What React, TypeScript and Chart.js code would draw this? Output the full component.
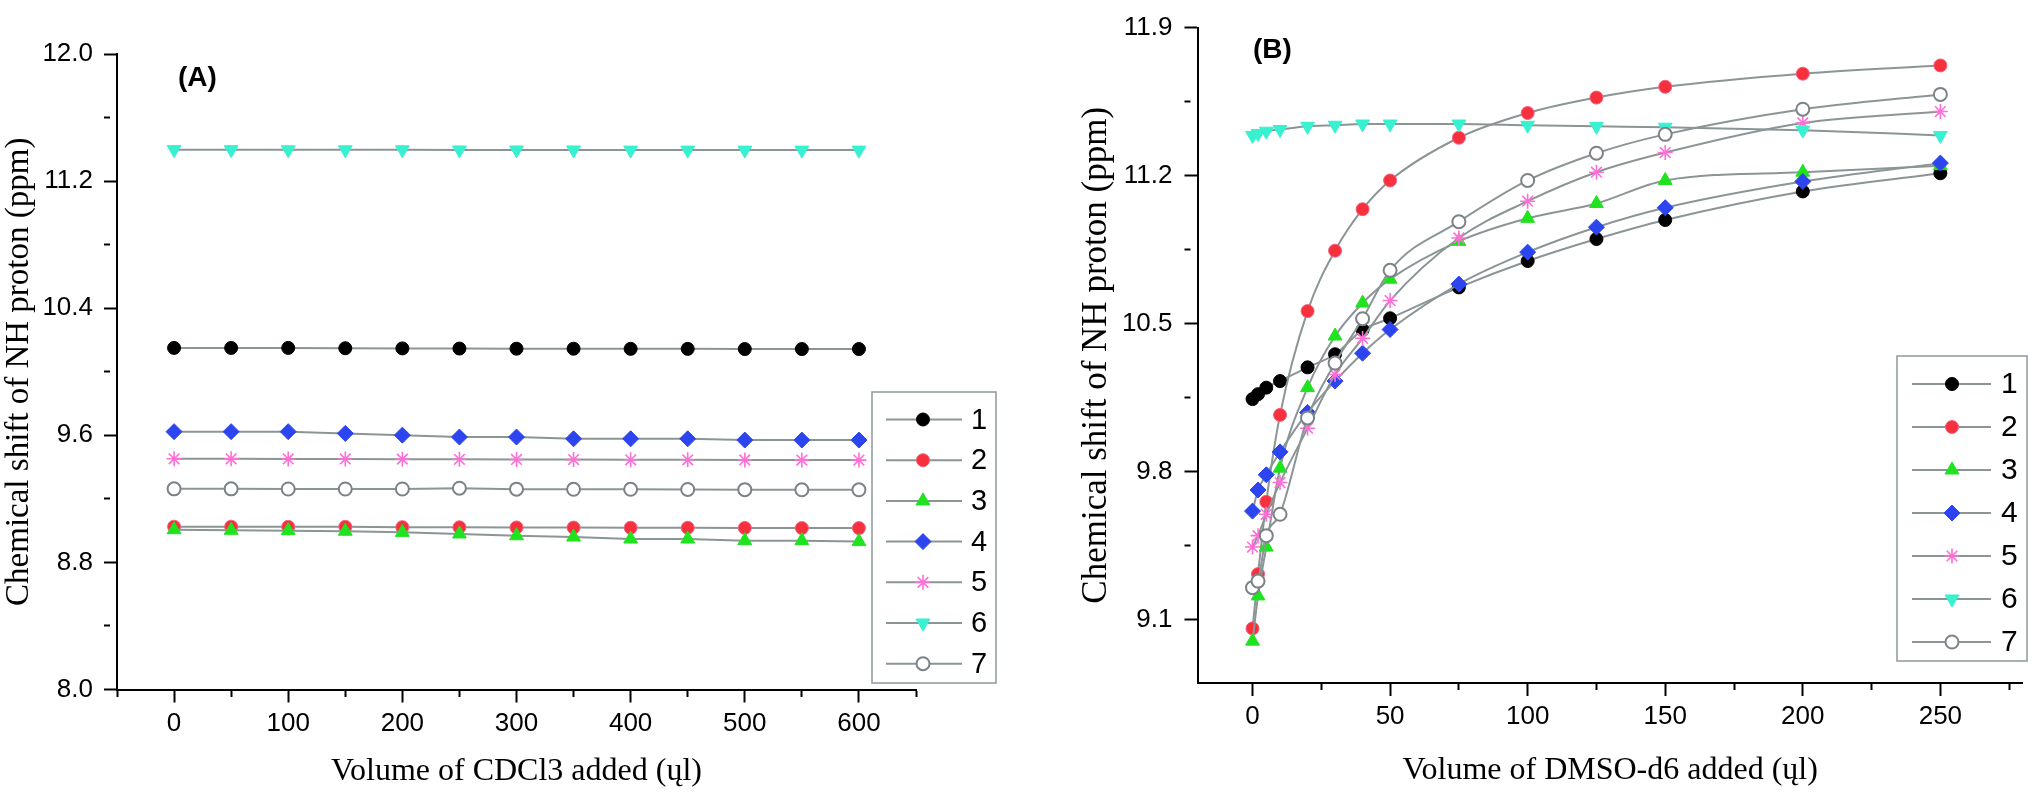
import { useEffect, useRef } from 'react';
import { Chart, registerables } from 'chart.js';
import { drawPoint } from 'chart.js/helpers';

Chart.register(...registerables);

// series labels, shared by both panels
const compounds = ['1', '2', '3', '4', '5', '6', '7'];

// (A) CDCl3 titration
const cdclVolumes = [0, 50, 100, 150, 200, 250, 300, 350, 400, 450, 500, 550, 600];
const cdclShift1 = [10.15, 10.15, 10.15, 10.148, 10.147, 10.146, 10.145, 10.145, 10.144, 10.144, 10.143, 10.143, 10.143];
const cdclShift2 = [9.025, 9.025, 9.024, 9.024, 9.022, 9.021, 9.02, 9.019, 9.018, 9.018, 9.017, 9.016, 9.016];
const cdclShift3 = [9.006, 9.002, 9.0, 8.996, 8.989, 8.979, 8.968, 8.96, 8.947, 8.947, 8.937, 8.937, 8.931];
const cdclShift4 = [9.623, 9.623, 9.623, 9.612, 9.601, 9.589, 9.589, 9.578, 9.578, 9.578, 9.57, 9.57, 9.57];
const cdclShift5 = [9.452, 9.452, 9.451, 9.451, 9.45, 9.449, 9.448, 9.447, 9.446, 9.446, 9.445, 9.444, 9.444];
const cdclShift6 = [11.398, 11.398, 11.397, 11.397, 11.397, 11.396, 11.396, 11.396, 11.395, 11.395, 11.395, 11.395, 11.395];
const cdclShift7 = [9.263, 9.263, 9.262, 9.262, 9.262, 9.267, 9.261, 9.26, 9.26, 9.259, 9.258, 9.257, 9.257];

const cdclXTicks = [-50, 0, 50, 100, 150, 200, 250, 300, 350, 400, 450, 500, 550, 600, 650];
const cdclXLabels = [0, 100, 200, 300, 400, 500, 600];
const cdclYTicks = [8.0, 8.4, 8.8, 9.2, 9.6, 10.0, 10.4, 10.8, 11.2, 11.6, 12.0];
const cdclYLabels = [8.0, 8.8, 9.6, 10.4, 11.2, 12.0];

// (B) DMSO-d6 titration
const dmsoVolumes = [0, 2, 5, 10, 20, 30, 40, 50, 75, 100, 125, 150, 200, 250];
const dmsoShift1 = [10.143, 10.166, 10.197, 10.228, 10.293, 10.355, 10.47, 10.525, 10.671, 10.796, 10.9, 10.99, 11.125, 11.211];
const dmsoShift2 = [9.058, 9.315, 9.657, 10.068, 10.559, 10.845, 11.041, 11.177, 11.379, 11.496, 11.569, 11.62, 11.682, 11.721];
const dmsoShift3 = [8.998, 9.212, 9.443, 9.816, 10.197, 10.441, 10.597, 10.71, 10.889, 10.998, 11.068, 11.177, 11.216, 11.247];
const dmsoShift4 = [9.613, 9.713, 9.785, 9.893, 10.08, 10.228, 10.36, 10.472, 10.687, 10.838, 10.956, 11.048, 11.172, 11.259];
const dmsoShift5 = [9.443, 9.497, 9.598, 9.748, 10.005, 10.259, 10.43, 10.609, 10.905, 11.079, 11.216, 11.309, 11.449, 11.503];
const dmsoShift6 = [11.39, 11.399, 11.41, 11.418, 11.433, 11.438, 11.444, 11.444, 11.444, 11.438, 11.433, 11.429, 11.415, 11.39];
const dmsoShift7 = [9.251, 9.282, 9.497, 9.598, 10.054, 10.313, 10.523, 10.752, 10.982, 11.177, 11.306, 11.395, 11.514, 11.584];

const dmsoXTicks = [0, 25, 50, 75, 100, 125, 150, 175, 200, 225, 250, 275];
const dmsoXLabels = [0, 50, 100, 150, 200, 250];
const dmsoYTicks = [9.1, 9.45, 9.8, 10.15, 10.5, 10.85, 11.2, 11.55, 11.9];
const dmsoYLabels = [9.1, 9.8, 10.5, 11.2, 11.9];

const cdclSeries = [cdclShift1, cdclShift2, cdclShift3, cdclShift4, cdclShift5, cdclShift6, cdclShift7];
const dmsoSeries = [dmsoShift1, dmsoShift2, dmsoShift3, dmsoShift4, dmsoShift5, dmsoShift6, dmsoShift7];

const lineGray = '#8b9596';
const sansFont = '"Liberation Sans", Arial, sans-serif';
const serifFont = '"Liberation Serif", "Times New Roman", serif';

const markers = [
    { style: 'circle', rotation: 0, radius: 6.5, fill: '#000000', stroke: '#000000', width: 1 },
    { style: 'circle', rotation: 0, radius: 6.5, fill: '#f7303d', stroke: '#f2607e', width: 1 },
    { style: 'triangle', rotation: 0, radius: 8, fill: '#1fe31f', stroke: '#1fe31f', width: 1 },
    { style: 'rectRot', rotation: 0, radius: 8, fill: '#2d45ee', stroke: '#2d45ee', width: 1 },
    { style: 'star', rotation: 0, radius: 7.5, fill: '#ff6fd6', stroke: '#ff6fd6', width: 1.6 },
    { style: 'triangle', rotation: 180, radius: 8, fill: '#37f1d1', stroke: '#37f1d1', width: 1 },
    { style: 'circle', rotation: 0, radius: 6.5, fill: '#ffffff', stroke: '#7b8387', width: 2 },
];

const nearly = (list: number[], v: number) => list.some((t) => Math.abs(t - v) < 1e-6);

type AxisSpec = {
    min: number;
    max: number;
    ticks: number[];
    labels: number[];
    digits: number;
    size: number;
    padding: number;
    title: string;
    titleSize: number;
    titlePad: { top: number; bottom: number };
};

function makeAxis(spec: AxisSpec, horizontal: boolean) {
    return {
        type: 'linear',
        min: spec.min,
        max: spec.max,
        afterBuildTicks: (scale: any) => {
            scale.ticks = spec.ticks.map((value) => ({ value }));
        },
        afterFit: (scale: any) => {
            if (horizontal) scale.height = spec.size;
            else scale.width = spec.size;
        },
        border: { display: true, color: '#000', width: 2 },
        grid: {
            drawOnChartArea: false,
            tickLength: 13,
            tickWidth: 2,
            tickColor: '#000',
            // minor ticks: only the first 6px of the tick line is drawn
            tickBorderDash: (ctx: any) => (ctx.tick && nearly(spec.labels, ctx.tick.value) ? [] : [6, 40]),
        },
        ticks: {
            autoSkip: false,
            maxRotation: 0,
            minRotation: 0,
            padding: spec.padding,
            color: '#000',
            font: { family: sansFont, size: 26 },
            callback: (value: any) => (nearly(spec.labels, Number(value)) ? Number(value).toFixed(spec.digits) : ''),
        },
        title: {
            display: true,
            text: spec.title,
            color: '#000',
            font: { family: serifFont, size: spec.titleSize },
            padding: spec.titlePad,
        },
    };
}

const insetLegend = {
    id: 'insetLegend',
    afterDraw(chart: any, _args: any, opts: any) {
        const { ctx } = chart;
        ctx.save();
        ctx.fillStyle = '#ffffff';
        ctx.strokeStyle = '#8e989d';
        ctx.lineWidth = 1.5;
        ctx.fillRect(opts.left, opts.top, opts.right - opts.left, opts.bottom - opts.top);
        ctx.strokeRect(opts.left, opts.top, opts.right - opts.left, opts.bottom - opts.top);
        chart.data.datasets.forEach((ds: any, i: number) => {
            const y = opts.firstY + i * opts.rowGap;
            ctx.strokeStyle = ds.borderColor;
            ctx.lineWidth = 2;
            ctx.beginPath();
            ctx.moveTo(opts.lineX1, y);
            ctx.lineTo(opts.lineX2, y);
            ctx.stroke();
            ctx.fillStyle = ds.pointBackgroundColor;
            ctx.strokeStyle = ds.pointBorderColor;
            ctx.lineWidth = ds.pointBorderWidth;
            drawPoint(ctx, {
                pointStyle: ds.pointStyle,
                rotation: ds.pointRotation,
                radius: ds.pointRadius,
                borderWidth: ds.pointBorderWidth,
            }, opts.markerX, y);
            ctx.fillStyle = '#000';
            ctx.font = `${opts.fontSize}px ${sansFont}`;
            ctx.textAlign = 'left';
            ctx.textBaseline = 'middle';
            ctx.fillText(ds.label, opts.textX, y + 1);
        });
        ctx.restore();
    },
};

const panelTag = {
    id: 'panelTag',
    afterDraw(chart: any, _args: any, opts: any) {
        const { ctx } = chart;
        ctx.save();
        ctx.fillStyle = '#000';
        ctx.font = `bold 28px ${sansFont}`;
        ctx.textAlign = 'left';
        ctx.textBaseline = 'middle';
        ctx.fillText(opts.text, opts.x, opts.y);
        ctx.restore();
    },
};

function buildConfig(xs: number[], series: number[][], smooth: boolean, x: AxisSpec, y: AxisSpec, padding: any, legend: any, tag: any) {
    return {
        type: 'line',
        data: {
            datasets: series.map((values, i) => ({
                label: compounds[i],
                data: xs.map((v, j) => ({ x: v, y: values[j] })),
                borderColor: lineGray,
                borderWidth: 2,
                pointStyle: markers[i].style,
                pointRotation: markers[i].rotation,
                pointRadius: markers[i].radius,
                pointBackgroundColor: markers[i].fill,
                pointBorderColor: markers[i].stroke,
                pointBorderWidth: markers[i].width,
                tension: smooth ? 0.4 : 0,
                cubicInterpolationMode: smooth ? 'monotone' : 'default',
                order: -i,
            })),
        },
        options: {
            responsive: false,
            animation: false,
            devicePixelRatio: 1,
            layout: { padding },
            scales: { x: makeAxis(x, true), y: makeAxis(y, false) },
            plugins: {
                legend: { display: false },
                tooltip: { enabled: false },
                insetLegend: legend,
                panelTag: tag,
            },
        },
        plugins: [insetLegend, panelTag],
    };
}

function PanelChart({ left, width, config }: { left: number; width: number; config: any }) {
    const canvasRef = useRef<HTMLCanvasElement | null>(null);

    useEffect(() => {
        if (!canvasRef.current) {
            return;
        }
        const chart = new Chart(canvasRef.current, config);
        return () => chart.destroy();
    }, [config]);

    return (
        <canvas
            ref={canvasRef}
            width={width}
            height={796}
            style={{ position: 'absolute', left, top: 0, width, height: 796 }}
        />
    );
}

const cdclConfig = buildConfig(
    cdclVolumes,
    cdclSeries,
    false,
    {
        min: -50, max: 650, ticks: cdclXTicks, labels: cdclXLabels, digits: 0, size: 106.5, padding: 6,
        title: 'Volume of CDCl3 added (ųl)', titleSize: 32, titlePad: { top: 0, bottom: 5 },
    },
    {
        min: 8.0, max: 12.0, ticks: cdclYTicks, labels: cdclYLabels, digits: 1, size: 117, padding: 11,
        title: 'Chemical shift of NH proton (ppm)', titleSize: 33, titlePad: { top: 0, bottom: 0 },
    },
    { left: 0, right: 84, top: 54, bottom: 0 },
    { left: 872, top: 392, right: 996, bottom: 683, firstY: 419.5, rowGap: 40.7, lineX1: 886, lineX2: 962, markerX: 923, textX: 971, fontSize: 29 },
    { text: '(A)', x: 178, y: 78 },
);

const dmsoConfig = buildConfig(
    dmsoVolumes,
    dmsoSeries,
    true,
    {
        min: -20, max: 280, ticks: dmsoXTicks, labels: dmsoXLabels, digits: 0, size: 113, padding: 5,
        title: 'Volume of DMSO-d6 added (ųl)', titleSize: 32, titlePad: { top: 0, bottom: 6 },
    },
    {
        min: 8.8, max: 11.9, ticks: dmsoYTicks, labels: dmsoYLabels, digits: 1, size: 197.5, padding: 12,
        title: 'Chemical shift of NH proton (ppm)', titleSize: 35, titlePad: { top: 76, bottom: 0 },
    },
    { left: 0, right: 7, top: 16, bottom: 0 },
    { left: 897, top: 356, right: 1027, bottom: 661, firstY: 384, rowGap: 43, lineX1: 912, lineX2: 991, markerX: 952, textX: 1001, fontSize: 30 },
    { text: '(B)', x: 253, y: 50 },
);

export default function App() {
    return (
        <div style={{ position: 'absolute', left: 0, top: 0, width: 2032, height: 796, background: '#ffffff', overflow: 'hidden' }}>
            <PanelChart left={0} width={1000} config={cdclConfig} />
            <PanelChart left={1000} width={1032} config={dmsoConfig} />
        </div>
    );
}
